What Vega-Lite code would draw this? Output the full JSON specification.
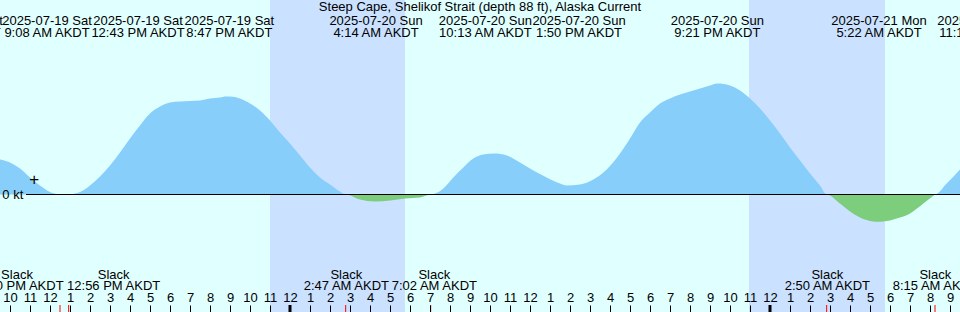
{
  "$schema": "https://vega.github.io/schema/vega-lite/v6.json",
  "width": 960,
  "height": 312,
  "autosize": {"type": "none"},
  "padding": 0,
  "background": "#e0ffff",
  "config": {
    "view": {"stroke": null},
    "text": {"font": "Liberation Sans", "fontSize": 13, "color": "black"}
  },
  "datasets": {
    "nightData": [
      {"t": "2025-07-19T23:00:00", "t2": "2025-07-20T05:45:00"},
      {"t": "2025-07-20T22:57:00", "t2": "2025-07-21T05:45:00"}
    ],
    "curveData": [
      {"t": "2025-07-19T09:00:00", "kt": 0.37},
      {"t": "2025-07-19T09:30:00", "kt": 0.35},
      {"t": "2025-07-19T10:00:00", "kt": 0.32},
      {"t": "2025-07-19T10:30:00", "kt": 0.26},
      {"t": "2025-07-19T11:00:00", "kt": 0.17},
      {"t": "2025-07-19T11:30:00", "kt": 0.09},
      {"t": "2025-07-19T12:00:00", "kt": 0.025},
      {"t": "2025-07-19T12:30:00", "kt": 0},
      {"t": "2025-07-19T12:43:00", "kt": -0.005},
      {"t": "2025-07-19T12:56:00", "kt": 0},
      {"t": "2025-07-19T13:30:00", "kt": 0.025},
      {"t": "2025-07-19T14:00:00", "kt": 0.09},
      {"t": "2025-07-19T14:30:00", "kt": 0.18},
      {"t": "2025-07-19T15:00:00", "kt": 0.29},
      {"t": "2025-07-19T15:30:00", "kt": 0.42},
      {"t": "2025-07-19T16:00:00", "kt": 0.56},
      {"t": "2025-07-19T16:30:00", "kt": 0.69},
      {"t": "2025-07-19T17:00:00", "kt": 0.81},
      {"t": "2025-07-19T17:30:00", "kt": 0.88},
      {"t": "2025-07-19T18:00:00", "kt": 0.92},
      {"t": "2025-07-19T18:30:00", "kt": 0.93},
      {"t": "2025-07-19T19:00:00", "kt": 0.935},
      {"t": "2025-07-19T19:30:00", "kt": 0.94},
      {"t": "2025-07-19T20:00:00", "kt": 0.96},
      {"t": "2025-07-19T20:30:00", "kt": 0.97},
      {"t": "2025-07-19T20:47:00", "kt": 0.98},
      {"t": "2025-07-19T21:00:00", "kt": 0.98},
      {"t": "2025-07-19T21:30:00", "kt": 0.96},
      {"t": "2025-07-19T22:00:00", "kt": 0.91},
      {"t": "2025-07-19T22:30:00", "kt": 0.84},
      {"t": "2025-07-19T23:00:00", "kt": 0.74},
      {"t": "2025-07-19T23:30:00", "kt": 0.62},
      {"t": "2025-07-20T00:00:00", "kt": 0.51},
      {"t": "2025-07-20T00:30:00", "kt": 0.39},
      {"t": "2025-07-20T01:00:00", "kt": 0.27},
      {"t": "2025-07-20T01:30:00", "kt": 0.17},
      {"t": "2025-07-20T02:00:00", "kt": 0.10},
      {"t": "2025-07-20T02:30:00", "kt": 0.03},
      {"t": "2025-07-20T02:47:00", "kt": 0},
      {"t": "2025-07-20T03:30:00", "kt": -0.05},
      {"t": "2025-07-20T04:14:00", "kt": -0.07},
      {"t": "2025-07-20T05:00:00", "kt": -0.06},
      {"t": "2025-07-20T05:45:00", "kt": -0.04},
      {"t": "2025-07-20T06:30:00", "kt": -0.03},
      {"t": "2025-07-20T07:02:00", "kt": 0},
      {"t": "2025-07-20T07:40:00", "kt": 0.06},
      {"t": "2025-07-20T08:10:00", "kt": 0.17},
      {"t": "2025-07-20T08:40:00", "kt": 0.27},
      {"t": "2025-07-20T09:10:00", "kt": 0.36},
      {"t": "2025-07-20T09:40:00", "kt": 0.40},
      {"t": "2025-07-20T10:13:00", "kt": 0.41},
      {"t": "2025-07-20T10:50:00", "kt": 0.39},
      {"t": "2025-07-20T11:30:00", "kt": 0.32},
      {"t": "2025-07-20T12:10:00", "kt": 0.24},
      {"t": "2025-07-20T12:50:00", "kt": 0.17},
      {"t": "2025-07-20T13:30:00", "kt": 0.11},
      {"t": "2025-07-20T13:50:00", "kt": 0.09},
      {"t": "2025-07-20T14:30:00", "kt": 0.10},
      {"t": "2025-07-20T15:10:00", "kt": 0.15},
      {"t": "2025-07-20T15:50:00", "kt": 0.25},
      {"t": "2025-07-20T16:30:00", "kt": 0.41},
      {"t": "2025-07-20T17:00:00", "kt": 0.56},
      {"t": "2025-07-20T17:30:00", "kt": 0.72},
      {"t": "2025-07-20T18:00:00", "kt": 0.82},
      {"t": "2025-07-20T18:30:00", "kt": 0.91},
      {"t": "2025-07-20T19:00:00", "kt": 0.96},
      {"t": "2025-07-20T19:30:00", "kt": 1.00},
      {"t": "2025-07-20T20:00:00", "kt": 1.03},
      {"t": "2025-07-20T20:30:00", "kt": 1.06},
      {"t": "2025-07-20T21:00:00", "kt": 1.09},
      {"t": "2025-07-20T21:21:00", "kt": 1.11},
      {"t": "2025-07-20T22:00:00", "kt": 1.09},
      {"t": "2025-07-20T22:30:00", "kt": 1.04},
      {"t": "2025-07-20T23:00:00", "kt": 0.96},
      {"t": "2025-07-20T23:30:00", "kt": 0.86},
      {"t": "2025-07-21T00:00:00", "kt": 0.74},
      {"t": "2025-07-21T00:30:00", "kt": 0.61},
      {"t": "2025-07-21T01:00:00", "kt": 0.47},
      {"t": "2025-07-21T01:30:00", "kt": 0.34},
      {"t": "2025-07-21T02:00:00", "kt": 0.21},
      {"t": "2025-07-21T02:30:00", "kt": 0.09},
      {"t": "2025-07-21T02:50:00", "kt": 0},
      {"t": "2025-07-21T03:30:00", "kt": -0.09},
      {"t": "2025-07-21T04:00:00", "kt": -0.17},
      {"t": "2025-07-21T04:30:00", "kt": -0.23},
      {"t": "2025-07-21T05:10:00", "kt": -0.27},
      {"t": "2025-07-21T05:22:00", "kt": -0.272},
      {"t": "2025-07-21T05:40:00", "kt": -0.27},
      {"t": "2025-07-21T06:20:00", "kt": -0.24},
      {"t": "2025-07-21T07:00:00", "kt": -0.19},
      {"t": "2025-07-21T07:40:00", "kt": -0.09},
      {"t": "2025-07-21T08:15:00", "kt": 0},
      {"t": "2025-07-21T08:50:00", "kt": 0.11},
      {"t": "2025-07-21T09:30:00", "kt": 0.25},
      {"t": "2025-07-21T10:00:00", "kt": 0.36}
    ],
    "zeroData": [
      {"t": "2025-07-19T10:48:00", "t2": "2025-07-21T09:30:00", "kt": 0}
    ],
    "zeroLabelData": [
      {"t": "2025-07-19T09:37:00", "kt": 0, "label": "0 kt"}
    ],
    "nowData": [
      {"t": "2025-07-19T11:13:00", "kt": 0.137, "label": "+"}
    ],
    "titleData": [
      {"t": "2025-07-20T09:30:00", "text": "Steep Cape, Shelikof Strait (depth 88 ft), Alaska Current"}
    ],
    "topData": [
      {"t": "2025-07-19T07:24:00", "d": "2025-07-19 Sat", "tm": "6:02 AM AKDT"},
      {"t": "2025-07-19T11:51:00", "d": "2025-07-19 Sat", "tm": "9:08 AM AKDT"},
      {"t": "2025-07-19T16:24:00", "d": "2025-07-19 Sat", "tm": "12:43 PM AKDT"},
      {"t": "2025-07-19T20:58:00", "d": "2025-07-19 Sat", "tm": "8:47 PM AKDT"},
      {"t": "2025-07-20T04:18:00", "d": "2025-07-20 Sun", "tm": "4:14 AM AKDT"},
      {"t": "2025-07-20T09:46:00", "d": "2025-07-20 Sun", "tm": "10:13 AM AKDT"},
      {"t": "2025-07-20T14:27:00", "d": "2025-07-20 Sun", "tm": "1:50 PM AKDT"},
      {"t": "2025-07-20T21:22:00", "d": "2025-07-20 Sun", "tm": "9:21 PM AKDT"},
      {"t": "2025-07-21T05:27:00", "d": "2025-07-21 Mon", "tm": "5:22 AM AKDT"},
      {"t": "2025-07-21T10:45:00", "d": "2025-07-21 Mon", "tm": "11:14 AM AKDT"}
    ],
    "slackLabelData": [
      {"t": "2025-07-19T10:21:00", "tm": "12:30 PM AKDT"},
      {"t": "2025-07-19T15:11:00", "tm": "12:56 PM AKDT"},
      {"t": "2025-07-20T02:49:00", "tm": "2:47 AM AKDT"},
      {"t": "2025-07-20T07:13:00", "tm": "7:02 AM AKDT"},
      {"t": "2025-07-21T02:52:00", "tm": "2:50 AM AKDT"},
      {"t": "2025-07-21T08:16:00", "tm": "8:15 AM AKDT"}
    ],
    "slackData": [
      {"t": "2025-07-19T12:30:00"},
      {"t": "2025-07-19T12:56:00"},
      {"t": "2025-07-20T02:47:00"},
      {"t": "2025-07-20T07:02:00"},
      {"t": "2025-07-21T02:50:00"},
      {"t": "2025-07-21T08:15:00"}
    ],
    "midnightData": [
      {"t": "2025-07-20T00:00:00"},
      {"t": "2025-07-21T00:00:00"}
    ]
  },
  "encoding": {
    "x": {
      "field": "t",
      "type": "temporal",
      "scale": {"domain": [{"year": 2025, "month": 7, "date": 19, "hours": 9, "minutes": 30}, {"year": 2025, "month": 7, "date": 21, "hours": 9, "minutes": 30}]},
      "axis": {
        "orient": "top", "offset": -312, "domain": false, "grid": false, "title": null,
        "format": "%-I", "tickCount": 48, "tickSize": 7, "tickColor": "black",
        "labelColor": "black", "labelFont": "Liberation Sans", "labelFontSize": 13,
        "labelPadding": 1, "labelOverlap": false, "labelFlush": false, "zindex": 1
      }
    }
  },
  "layer": [
    {
      "data": {"name": "nightData"},
      "mark": {"type": "rect", "color": "#cae1ff"},
      "encoding": {
        "x2": {"field": "t2"},
        "y": {"value": 0},
        "y2": {"value": 312}
      }
    },
    {
      "data": {"name": "curveData"},
      "transform": [{"filter": "datum.kt >= 0"}],
      "mark": {"type": "area", "color": "#87cefa", "interpolate": "monotone"},
      "encoding": {
        "y": {"field": "kt", "type": "quantitative", "scale": {"domain": [-1.175, 1.945], "nice": false, "zero": false}, "axis": null},
        "y2": {"datum": 0}
      }
    },
    {
      "data": {"name": "curveData"},
      "transform": [{"filter": "datum.kt <= 0"}],
      "mark": {"type": "area", "color": "#7ccd7c", "interpolate": "monotone"},
      "encoding": {
        "y": {"field": "kt", "type": "quantitative", "axis": null},
        "y2": {"datum": 0}
      }
    },
    {
      "data": {"name": "zeroData"},
      "mark": {"type": "rule", "color": "black", "strokeWidth": 1},
      "encoding": {
        "x2": {"field": "t2"},
        "y": {"field": "kt", "type": "quantitative", "axis": null}
      }
    },
    {
      "data": {"name": "zeroLabelData"},
      "mark": {"type": "text", "align": "left", "baseline": "middle"},
      "encoding": {
        "y": {"field": "kt", "type": "quantitative", "axis": null},
        "text": {"field": "label"}
      }
    },
    {
      "data": {"name": "nowData"},
      "mark": {"type": "text", "align": "center", "baseline": "middle", "fontSize": 17, "dy": -1},
      "encoding": {
        "y": {"field": "kt", "type": "quantitative", "axis": null},
        "text": {"field": "label"}
      }
    },
    {
      "data": {"name": "titleData"},
      "mark": {"type": "text", "align": "center", "baseline": "alphabetic"},
      "encoding": {
        "y": {"value": 10.5},
        "text": {"field": "text"}
      }
    },
    {
      "data": {"name": "topData"},
      "mark": {"type": "text", "align": "center", "baseline": "alphabetic"},
      "encoding": {
        "y": {"value": 24.5},
        "text": {"field": "d"}
      }
    },
    {
      "data": {"name": "topData"},
      "mark": {"type": "text", "align": "center", "baseline": "alphabetic"},
      "encoding": {
        "y": {"value": 36.5},
        "text": {"field": "tm"}
      }
    },
    {
      "data": {"name": "slackLabelData"},
      "mark": {"type": "text", "align": "center", "baseline": "alphabetic", "text": "Slack"},
      "encoding": {
        "y": {"value": 278.5}
      }
    },
    {
      "data": {"name": "slackLabelData"},
      "mark": {"type": "text", "align": "center", "baseline": "alphabetic"},
      "encoding": {
        "y": {"value": 290},
        "text": {"field": "tm"}
      }
    },
    {
      "data": {"name": "midnightData"},
      "mark": {"type": "rule", "color": "black", "strokeWidth": 3},
      "encoding": {
        "y": {"value": 305},
        "y2": {"value": 312}
      }
    },
    {
      "data": {"name": "slackData"},
      "mark": {"type": "rule", "color": "#ff0000", "strokeWidth": 1},
      "encoding": {
        "y": {"value": 305},
        "y2": {"value": 312}
      }
    }
  ]
}
